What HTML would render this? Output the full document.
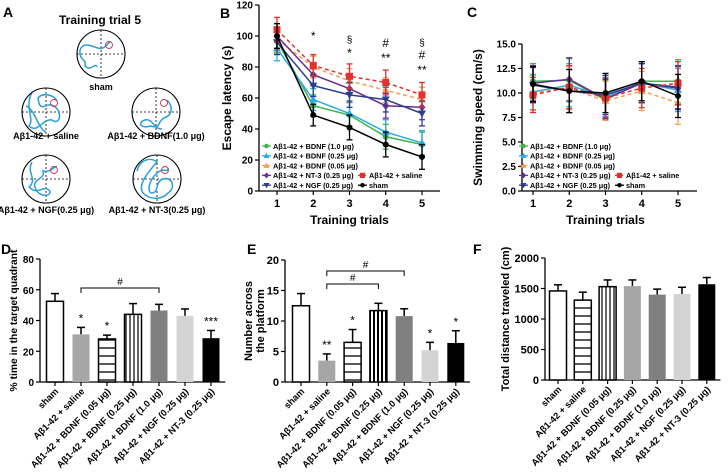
<!DOCTYPE html>
<html><head><meta charset="utf-8"><style>
html,body{margin:0;padding:0;background:#fff;}
svg{display:block;font-family:"Liberation Sans",Arial,sans-serif;font-weight:bold;}
</style></head><body>
<svg id="fig" width="728" height="476" viewBox="0 0 728 476" xmlns="http://www.w3.org/2000/svg">
<defs>
<pattern id="hstripe" width="8" height="8" patternUnits="userSpaceOnUse"><rect width="8" height="8" fill="#fff"/><line x1="0" y1="4" x2="8" y2="4" stroke="#000" stroke-width="1.3"/></pattern>
<pattern id="vstripe" width="4" height="8" patternUnits="userSpaceOnUse"><rect width="4" height="8" fill="#fff"/><line x1="2" y1="0" x2="2" y2="8" stroke="#000" stroke-width="1.2"/></pattern>
<pattern id="vstripe2" width="4" height="8" patternUnits="userSpaceOnUse"><rect width="4" height="8" fill="#fff"/><line x1="2" y1="0" x2="2" y2="8" stroke="#000" stroke-width="2"/></pattern>
</defs>
<g id="panelA">
<text x="3" y="17" font-size="14">A</text>
<text x="100" y="24" font-size="12" text-anchor="middle">Training trial 5</text>
</g>
<g id="panelB"></g>
<g id="panelC"></g>
<g id="panelD"></g>
<g id="panelE"></g>
<g id="panelF"></g>
</svg>
<script>
// ---- Panel B data ----
const trials = [1,2,3,4,5];
const bTicks = [0,20,40,60,80,100,120];
const bSham = [100,49,41,30,22];
const bSaline = [104,81,74,70,62];
const bBdnf10 = [97,55,49,35,30];
const bBdnf025 = [92,59,50,38,31];
const bBdnf005 = [98,80,71,65,59];
const bNt3 = [100,75,66,55,54];
const bNgf = [96,68,62,59,50];
const bErr = [8,7,8,8,8];
// ---- Panel C data ----
const cTicks = [0,2.5,5,7.5,10,12.5,15];
const cSham = [10.9,10.2,10.0,11.2,9.7];
const cSaline = [9.8,10.6,9.5,10.5,11.0];
const cBdnf10 = [11.2,11.3,9.3,11.2,11.2];
const cBdnf025 = [10.1,10.8,9.6,11.0,10.3];
const cBdnf005 = [10.0,10.5,9.2,10.2,9.0];
const cNt3 = [11.0,11.4,9.4,11.0,10.5];
const cNgf = [10.8,10.2,9.8,11.0,10.6];
const cErr = [1.8,2.2,2.0,2.0,2.2];
// ---- Bar panels ----
const groupsDEF = ["sham","Aβ1-42 + saline","Aβ1-42 + BDNF (0.05 μg)","Aβ1-42 + BDNF (0.25 μg)","Aβ1-42 + BDNF (1.0 μg)","Aβ1-42 + NGF (0.25 μg)","Aβ1-42 + NT-3 (0.25 μg)"];
const dTicks = [0,20,40,60,80];
const dValues = [52.5,31,28,44,46.5,43,28.5];
const dErrors = [5,4.5,2.5,7,4,4.5,5];
const dStars = ["","*","*","","","","***"];
const eTicks = [0,5,10,15,20];
const eValues = [12.5,3.5,6.5,11.7,10.8,5.2,6.4];
const eErrors = [2,1.1,2.1,1.2,1.2,1.3,2];
const eStars = ["","**","*","","","*","*"];
const fTicks = [0,500,1000,1500,2000];
const fValues = [1460,1310,1530,1540,1400,1410,1570];
const fErrors = [100,130,110,100,90,110,110];
const fGroups = ["sham","Aβ1-42 + saline","Aβ1-42 + BDNF (0.05 μg)","Aβ1-42 + BDNF (0.25 μg)","Aβ1-42 + BDNF (1.0 μg)","Aβ1-42 + NGF (0.25 μg)","Aβ1-42 + NT-3 (0.25 μg)"];

const NS="http://www.w3.org/2000/svg";
function mk(parent,tag,attrs,text){const e=document.createElementNS(NS,tag);for(const k in attrs)e.setAttribute(k,attrs[k]);if(text!==undefined)e.textContent=text;parent.appendChild(e);return e;}

// ---- Panel A ----
(function(){
 const g=document.getElementById('panelA');
 const items=[[101,54,"sham",90],[46,112,"Aβ1-42 + saline",139],[156,112,"Aβ1-42 + BDNF(1.0 μg)",139],[46,179,"Aβ1-42 + NGF(0.25 μg)",213],[157,179,"Aβ1-42 + NT-3(0.25 μg)",213]];
 const paths=["M-21,-4 C-17,-14 -6,-6 -3,-6 C3,-4 6,-10 9,-12 M-21,-4 C-22,8 -14,4 -16,12 C-10,18 -6,8 -4,13",
  "M-14,-20 C-22,-3 -11,6 -17,14 C-8,22 -3,6 6,8 C14,14 17,0 8,-6 C0,-11 -6,3 -8,-14 C-3,-20 8,-17 11,-11 M-20,-6 C-11,-3 -8,17 0,20",
  "M11,-12 C17,-6 17,3 8,6 C0,11 6,17 -6,14 C-14,17 -20,11 -11,8 C-3,6 -3,17 6,17",
  "M-14,-17 C-20,-6 -8,0 -17,8 C-8,17 -3,6 3,11 C8,17 -8,20 -11,8 C-14,0 0,0 -3,-8 C6,-6 8,-14 11,-12",
  "M-20,-8 C-17,-20 -6,-22 0,-17 C-8,-8 -20,6 -14,14 C-6,22 6,20 11,14 C20,8 14,-3 6,0 C-3,3 3,14 -6,14 C-11,11 -6,-3 3,-8 C8,-11 11,-6 11,-11"];
 items.forEach((it,i)=>{
  const c=mk(g,'g',{transform:`translate(${it[0]},${it[1]})`});
  
  
  mk(c,'line',{x1:-24,y1:0,x2:24,y2:0,stroke:'#000','stroke-dasharray':'2,2','stroke-width':0.8});
  mk(c,'line',{x1:0,y1:-24,x2:0,y2:24,stroke:'#000','stroke-dasharray':'2,2','stroke-width':0.8});
  mk(c,'path',{d:paths[i],fill:'none',stroke:'#29a0d8','stroke-width':1.5});
  mk(c,'circle',{cx:8,cy:-9,r:3.5,fill:'none',stroke:'#d03050','stroke-width':0.9});
  mk(c,'circle',{cx:0,cy:0,r:24,fill:'none',stroke:'#000','stroke-width':1.1});
  const t=mk(g,'text',{x:it[0],y:it[3],'font-size':9,'text-anchor':'middle'},it[2]);
  
  
 });
})();

// ---- Line panels ----
const seriesDefs=[
 {name:"Aβ1-42 + BDNF (1.0 μg)",color:"#3cb44b",dash:"",m:"circle"},
 {name:"Aβ1-42 + BDNF (0.25 μg)",color:"#29abe2",dash:"",m:"tri"},
 {name:"Aβ1-42 + BDNF (0.05 μg)",color:"#f0a050",dash:"4,3",m:"tri"},
 {name:"Aβ1-42 + NT-3 (0.25 μg)",color:"#6a2c91",dash:"",m:"diamond"},
 {name:"Aβ1-42 + NGF (0.25 μg)",color:"#2b3f8c",dash:"",m:"dtri"},
 {name:"Aβ1-42 + saline",color:"#e03030",dash:"4,3",m:"square"},
 {name:"sham",color:"#000",dash:"",m:"circle"}];
function marker(g,m,x,y,col,s){s=s||1;
 if(m==="circle")return mk(g,'circle',{cx:x,cy:y,r:3*s,fill:col});
 if(m==="square")return mk(g,'rect',{x:x-3.5*s,y:y-3.5*s,width:7*s,height:7*s,fill:col});
 if(m==="tri")return mk(g,'path',{d:`M${x},${y-4*s}L${x+4*s},${y+3*s}L${x-4*s},${y+3*s}Z`,fill:col});
 if(m==="dtri")return mk(g,'path',{d:`M${x},${y+4*s}L${x+4*s},${y-3*s}L${x-4*s},${y-3*s}Z`,fill:col});
 return mk(g,'path',{d:`M${x},${y-4*s}L${x+3.5*s},${y}L${x},${y+4*s}L${x-3.5*s},${y}Z`,fill:col});
}
function linePanel(id,o){
 const g=document.getElementById(id);
 const ymax=o.ticks[o.ticks.length-1];
 const Y=v=>o.y0-(v/ymax)*(o.y0-o.yTop);
 const X=t=>o.x1+(t-1)*(o.x5-o.x1)/4;
 mk(g,'text',{x:o.lx,y:o.ly,'font-size':14},o.label);
 mk(g,'line',{x1:o.ax,y1:o.yTop,x2:o.ax,y2:o.y0,stroke:'#000','stroke-width':1.3});
 mk(g,'line',{x1:o.ax,y1:o.y0,x2:o.axEnd,y2:o.y0,stroke:'#000','stroke-width':1.3});
 o.ticks.forEach(t=>{mk(g,'line',{x1:o.ax-4,y1:Y(t),x2:o.ax,y2:Y(t),stroke:'#000','stroke-width':1.2});
  mk(g,'text',{x:o.ax-6,y:Y(t)+3.5,'font-size':10,'text-anchor':'end'},o.fmt(t));});
 trials.forEach(t=>{mk(g,'line',{x1:X(t),y1:o.y0,x2:X(t),y2:o.y0+4,stroke:'#000','stroke-width':1.2});
  mk(g,'text',{x:X(t),y:o.y0+16,'font-size':11,'text-anchor':'middle'},t);});
 mk(g,'text',{x:(o.x1+o.x5)/2,y:o.y0+33,'font-size':12,'text-anchor':'middle'},"Training trials");
 mk(g,'text',{x:0,y:0,'font-size':12,'text-anchor':'middle',transform:`translate(${o.tx},${(o.yTop+o.y0)/2}) rotate(-90)`},o.title);
 o.data.forEach((d,si)=>{
  const s=seriesDefs[si];
  const sg=mk(g,'g',{});
  
  
  trials.forEach((t,i)=>{const x=X(t),e=o.err[i];
   mk(sg,'line',{x1:x,y1:Y(d[i]-e),x2:x,y2:Y(d[i]+e),stroke:s.color,'stroke-width':1.3});
   mk(sg,'line',{x1:x-3,y1:Y(d[i]+e),x2:x+3,y2:Y(d[i]+e),stroke:s.color,'stroke-width':1.3});
   mk(sg,'line',{x1:x-3,y1:Y(d[i]-e),x2:x+3,y2:Y(d[i]-e),stroke:s.color,'stroke-width':1.3});});
  mk(sg,'polyline',{points:trials.map((t,i)=>X(t)+','+Y(d[i])).join(' '),fill:'none',stroke:s.color,'stroke-width':1.5,'stroke-dasharray':s.dash});
  trials.forEach((t,i)=>marker(sg,s.m,X(t),Y(d[i]),s.color));
 });
 seriesDefs.forEach((s,i)=>{
  const lx=i<5?o.legX:o.legX2, ly=i<5?o.legY+i*9.8:o.legY+(i-2)*9.8;
  const lg=mk(g,'g',{});
  
  
  mk(lg,'line',{x1:lx,y1:ly,x2:lx+9,y2:ly,stroke:s.color,'stroke-width':1.3,'stroke-dasharray':s.dash?'3,2':''});
  marker(lg,s.m,lx+4.5,ly,s.color,0.75);
  mk(lg,'text',{x:lx+11,y:ly+2.8,'font-size':7.3},s.name);
 });
 (o.sig||[]).forEach(s=>mk(g,'text',{x:X(s[0]),y:s[1],'font-size':s[2]==='§'?10:12,'text-anchor':'middle','font-weight':'normal'},s[2]));
}
linePanel('panelB',{label:"B",lx:220,ly:18,ax:259,axEnd:440,y0:191,yTop:5,x1:277,x5:422,ticks:bTicks,fmt:t=>t,tx:231,title:"Escape latency (s)",
 data:[bBdnf10,bBdnf025,bBdnf005,bNt3,bNgf,bSaline,bSham],err:bErr,legX:262,legX2:358,legY:146,
 sig:[[2,40,"*"],[3,43,"§"],[3,57,"*"],[4,47,"#"],[4,62,"**"],[5,46,"§"],[5,59,"#"],[5,74,"**"]]});
linePanel('panelC',{label:"C",lx:467,ly:17,ax:522,axEnd:697,y0:191,yTop:44,x1:533,x5:678,ticks:cTicks,fmt:t=>t.toFixed(1),tx:482,title:"Swimming speed (cm/s)",
 data:[cBdnf10,cBdnf025,cBdnf005,cNt3,cNgf,cSaline,cSham],err:cErr,legX:519,legX2:615,legY:146});

// ---- Bar panels ----
const fillsDE=["#fff","#a6a6a6","url(#hstripe)","url(#vstripe)","#808080","#d4d4d4","#000"];
const fillsF=["#fff","url(#hstripe)","url(#vstripe)","#a6a6a6","#808080","#d4d4d4","#000"];
function barPanel(id,o){
 const g=document.getElementById(id);
 const ymax=o.ticks[o.ticks.length-1];
 const Y=v=>o.y0-(v/ymax)*(o.y0-o.yTop);
 const X=i=>o.c0+i*o.step;
 mk(g,'text',{x:o.lx,y:o.ly,'font-size':14},o.label);
 mk(g,'line',{x1:o.ax,y1:o.yTop,x2:o.ax,y2:o.y0,stroke:'#000','stroke-width':1.3});
 mk(g,'line',{x1:o.ax,y1:o.y0,x2:X(6)+o.step*0.55,y2:o.y0,stroke:'#000','stroke-width':1.3});
 o.ticks.forEach(t=>{mk(g,'line',{x1:o.ax-4,y1:Y(t),x2:o.ax,y2:Y(t),stroke:'#000','stroke-width':1.2});
  mk(g,'text',{x:o.ax-6,y:Y(t)+4,'font-size':o.kfs||11,'text-anchor':'end'},t);});
 o.vals.forEach((v,i)=>{
  const x=X(i),w=o.bw,e=o.errs[i];
  const bg=mk(g,'g',{});
  
  
  mk(bg,'line',{x1:x,y1:Y(v),x2:x,y2:Y(v+e),stroke:'#000','stroke-width':1.5});
  mk(bg,'line',{x1:x-4,y1:Y(v+e),x2:x+4,y2:Y(v+e),stroke:'#000','stroke-width':1.5});
  const f=o.fills[i];
  const outlined=(f==="#fff"||f.startsWith("url"));
  mk(bg,'rect',{x:x-w/2,y:Y(v),width:w,height:Y(0)-Y(v),fill:f,stroke:outlined?'#000':'none','stroke-width':1.5});
  mk(g,'line',{x1:x,y1:o.y0,x2:x,y2:o.y0+4,stroke:'#000','stroke-width':1.2});
  mk(g,'text',{x:0,y:0,'font-size':9.3,'text-anchor':'end',transform:`translate(${x+4},${o.y0+10}) rotate(-45)`},o.groups[i]);
  if(o.stars&&o.stars[i])mk(g,'text',{x:x,y:Y(v+e)-5,'font-size':12,'text-anchor':'middle','font-weight':'normal'},o.stars[i]);
 });
 (o.brackets||[]).forEach(b=>{const y=b[2];
  mk(g,'path',{d:`M${X(b[0])},${y+5}V${y}H${X(b[1])}V${y+5}`,fill:'none',stroke:'#000','stroke-width':1});
  mk(g,'text',{x:(X(b[0])+X(b[1]))/2,y:y-3,'font-size':10,'text-anchor':'middle','font-weight':'normal'},'#');});
 o.title.forEach((t,k)=>mk(g,'text',{x:0,y:0,'font-size':o.tfs||11,'text-anchor':'middle',transform:`translate(${o.tx+k*12},${(o.yTop+o.y0)/2}) rotate(-90)`},t));
}
barPanel('panelD',{label:"D",lx:1,ly:254,ax:40,y0:382,yTop:259,c0:55,step:26,bw:17,ticks:dTicks,vals:dValues,errs:dErrors,fills:fillsDE,groups:groupsDEF,stars:dStars,
 brackets:[[1,4,288]],title:["% time in the target quadrant"],tx:17,tfs:10.3,kfs:10});
barPanel('panelE',{label:"E",lx:247,ly:254,ax:285,y0:382,yTop:260,c0:301,step:25.8,bw:17,ticks:eTicks,vals:eValues,errs:eErrors,fills:["#fff","#a6a6a6","url(#hstripe)","url(#vstripe2)","#808080","#d4d4d4","#000"],groups:groupsDEF,stars:eStars,
 brackets:[[1,4,271],[1,3,284]],title:["Number across","the platform"],tx:252});
barPanel('panelF',{label:"F",lx:473,ly:254,ax:545,y0:380,yTop:258,c0:558,step:24.8,bw:17,ticks:fTicks,vals:fValues,errs:fErrors,fills:fillsF,groups:fGroups,
 title:["Total distance traveled (cm)"],tx:509});
</script>
</body></html>
